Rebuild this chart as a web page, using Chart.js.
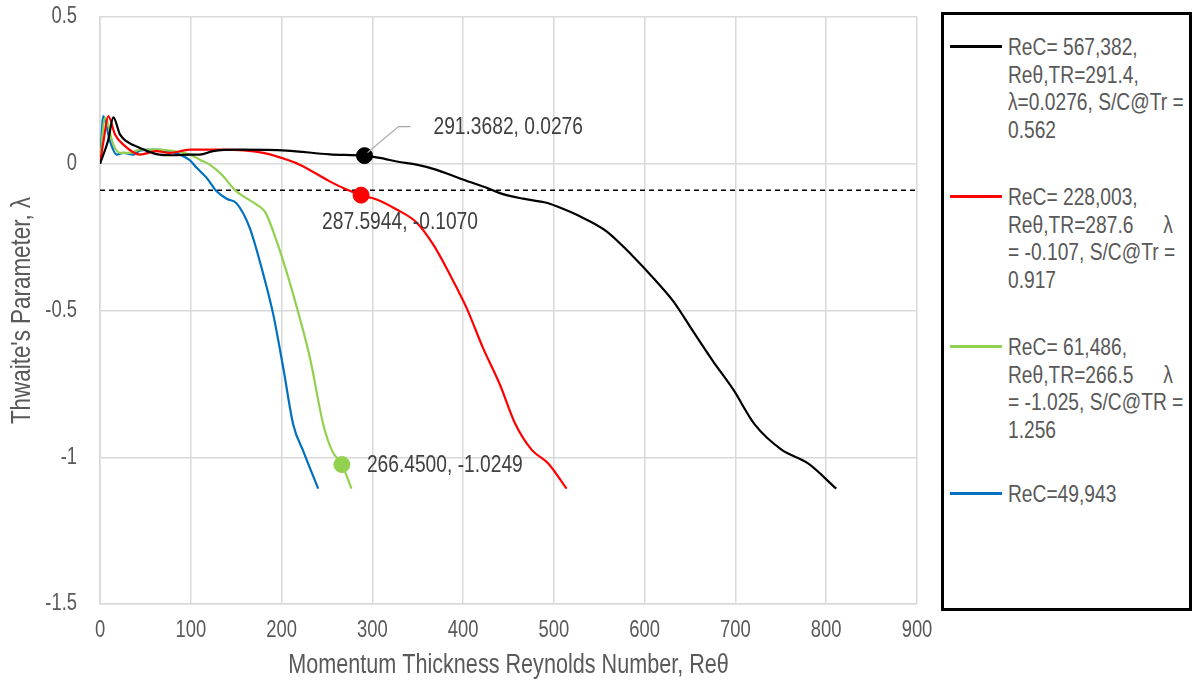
<!DOCTYPE html>
<html>
<head>
<meta charset="utf-8">
<script src="https://cdn.jsdelivr.net/npm/chart.js@4.4.0/dist/chart.umd.min.js"></script>
<style>
  body { margin: 0; background: #fff; }
  #wrap { position: relative; width: 1193px; height: 683px; }
  #legend {
    position: absolute; left: 941px; top: 12px; width: 245px; height: 593px;
    border: 3px solid #000; background: #fff;
    font-family: 'Liberation Sans', Arial, sans-serif;
    font-size: 24px; color: #595959;
  }
  .item { position: absolute; left: 0; width: 245px; line-height: 27.5px; }
  .swatch { position: absolute; left: 6px; width: 52px; height: 3px; top: 12px; }
  .txt { position: absolute; left: 64px; white-space: nowrap; transform: scaleX(0.8); transform-origin: 0 0; }
  .lam { position: absolute; left: 194px; }
</style>
</head>
<body>
<div id="wrap">
  <canvas id="thwaites"></canvas>
  <div id="legend"></div>
</div>
<script>
// series: Re_theta vs Thwaite's lambda ------------------------------------------------------

const blackX = [0, 9, 14.7, 22, 29, 44, 62, 80.6, 99, 110, 124.6, 154, 205.6, 253, 291.37, 308, 330, 348.7, 370, 396.5, 426, 440.5, 466, 492, 503, 528.6, 558, 587, 609.5, 631.4, 653.4, 675.4, 697.5, 721.4, 750.7, 780, 811]
const blackY = [0, 0.08, 0.158, 0.1, 0.077, 0.054, 0.033, 0.029, 0.031, 0.031, 0.043, 0.048, 0.045, 0.032, 0.0276, 0.02, 0.006, -0.003, -0.02, -0.05, -0.082, -0.1, -0.119, -0.133, -0.145, -0.179, -0.23, -0.315, -0.389, -0.468, -0.571, -0.673, -0.769, -0.889, -0.974, -1.021, -1.107]

const redX = [0, 4, 9.2, 16.5, 25.7, 44, 62, 77, 99, 135, 180, 200, 220, 253, 271.7, 287.59, 304.7, 326.7, 348.7, 367, 385.5, 403.8, 422, 440.5, 457, 475.4, 493.8, 514]
const redY = [0, 0.08, 0.162, 0.1, 0.065, 0.031, 0.043, 0.037, 0.048, 0.048, 0.037, 0.02, -0.003, -0.06, -0.088, -0.107, -0.122, -0.156, -0.2, -0.275, -0.378, -0.491, -0.628, -0.752, -0.883, -0.974, -1.021, -1.107]

const greenX = [0, 5.5, 14.7, 22, 33, 44, 62, 77, 99, 110, 121, 135, 148.7, 161.6, 172.5, 182, 194.6, 212.9, 231.3, 246, 256, 266.45, 277]
const greenY = [0, 0.156, 0.065, 0.037, 0.037, 0.048, 0.048, 0.045, 0.031, 0.014, -0.003, -0.04, -0.09, -0.118, -0.139, -0.165, -0.264, -0.446, -0.662, -0.889, -0.98, -1.0249, -1.107]

const blueX = [0, 3.7, 11, 18.4, 25.7, 36.7, 44, 62.4, 73.4, 88, 99, 106.5, 117.5, 128.5, 140, 150.5, 165, 180, 190.9, 201.9, 212.9, 224, 240.4]
const blueY = [0, 0.162, 0.077, 0.031, 0.037, 0.031, 0.045, 0.048, 0.043, 0.031, 0.012, -0.014, -0.048, -0.094, -0.12, -0.135, -0.219, -0.378, -0.514, -0.696, -0.889, -0.98, -1.107]

const seriesNames = [
  ['ReC= 567,382,', 'Reθ,TR=291.4,', 'λ=0.0276, S/C@Tr =', '0.562'],
  ['ReC= 228,003,', 'Reθ,TR=287.6|λ', '= -0.107, S/C@Tr =', '0.917'],
  ['ReC= 61,486,', 'Reθ,TR=266.5|λ', '= -1.025, S/C@TR =', '1.256'],
  ['ReC=49,943']
]
const seriesColors = ['#000000', '#ff0000', '#92d050', '#0070c0']

// transition points
const markerX = [291.3682, 287.5944, 266.4500]
const markerY = [0.0276, -0.1070, -1.0249]
const markerLabels = ['291.3682, 0.0276', '287.5944, -0.1070', '266.4500, -1.0249']

const separationLambda = -0.09
const xTicks = [0, 900, 100]
const yTicks = [-1.5, 0.5, 0.5]

const toPts = (xs, ys) => xs.map((x, i) => ({x: x, y: ys[i]}))
const curves = [toPts(blackX, blackY), toPts(redX, redY), toPts(greenX, greenY), toPts(blueX, blueY)]

const FONT = "'Liberation Sans', Arial, sans-serif"
Chart.defaults.font.family = FONT
Chart.defaults.color = '#595959'

// the original uses a narrow face; squeeze canvas text horizontally to get close
const SQUEEZE = 0.8
const canvas = document.getElementById('thwaites')
const c2d = canvas.getContext('2d')
const rawFill = c2d.fillText.bind(c2d)
const rawMeasure = c2d.measureText.bind(c2d)
c2d.fillText = function (text, x, y) {
  this.save()
  this.translate(x, y)
  this.scale(SQUEEZE, 1)
  rawFill(text, 0, 0)
  this.restore()
}
c2d.measureText = function (text) {
  const m = rawMeasure(text)
  return {width: m.width * SQUEEZE, actualBoundingBoxAscent: m.actualBoundingBoxAscent, actualBoundingBoxDescent: m.actualBoundingBoxDescent}
}

const datasets = []
markerX.forEach((mx, i) => {
  datasets.push({
    data: [{x: mx, y: markerY[i]}],
    showLine: false,
    pointRadius: 8,
    pointBackgroundColor: seriesColors[i],
    pointBorderColor: seriesColors[i],
    order: 0
  })
})
curves.forEach((pts, i) => {
  datasets.push({
    label: seriesNames[i][0],
    data: pts,
    borderColor: seriesColors[i],
    borderWidth: 2.2,
    pointRadius: 0,
    cubicInterpolationMode: 'monotone',
    order: 1
  })
})
datasets.push({
  data: [{x: xTicks[0], y: separationLambda}, {x: xTicks[1], y: separationLambda}],
  borderColor: '#000000',
  borderWidth: 1.5,
  borderDash: [5, 4],
  pointRadius: 0,
  order: 2
})

// labels next to the transition points
const pointLabels = {
  id: 'pointLabels',
  afterDatasetsDraw(chart) {
    const ctx = chart.ctx
    const xs = chart.scales.x, ys = chart.scales.y
    const off = [[69, -28], [-39, 27], [25, 1]]
    ctx.save()
    ctx.font = '24px ' + FONT
    ctx.fillStyle = '#404040'
    ctx.textBaseline = 'middle'
    markerX.forEach((mx, i) => {
      const px = xs.getPixelForValue(mx), py = ys.getPixelForValue(markerY[i])
      if (i === 0) {
        ctx.strokeStyle = '#a6a6a6'
        ctx.lineWidth = 1.2
        ctx.beginPath()
        ctx.moveTo(px + 3, py - 3)
        ctx.lineTo(px + 34, py - 29)
        ctx.lineTo(px + 46, py - 29)
        ctx.stroke()
      }
      ctx.fillText(markerLabels[i], px + off[i][0], py + off[i][1])
    })
    ctx.restore()
  }
}

new Chart(canvas, {
  type: 'line',
  data: {datasets: datasets},
  plugins: [pointLabels],
  options: {
    responsive: true,
    maintainAspectRatio: false,
    animation: false,
    layout: {padding: {top: 0, right: 276, left: 0, bottom: 0}},
    plugins: {
      legend: {display: false},
      tooltip: {enabled: false}
    },
    scales: {
      x: {
        type: 'linear',
        min: xTicks[0],
        max: xTicks[1],
        ticks: {stepSize: xTicks[2], padding: 13, font: {size: 23}},
        grid: {color: '#d9d9d9', lineWidth: 1.5, drawTicks: false},
        border: {color: '#d9d9d9', width: 1.5},
        title: {display: true, text: 'Momentum Thickness Reynolds Number, Reθ', font: {size: 27}, padding: {top: 0, bottom: 1}},
        afterFit(scale) { scale.height = 79 }
      },
      y: {
        min: yTicks[0],
        max: yTicks[1],
        ticks: {stepSize: yTicks[2], padding: 23, font: {size: 23}, callback: v => String(v)},
        grid: {color: '#d9d9d9', lineWidth: 1.5, drawTicks: false},
        border: {color: '#d9d9d9', width: 1.5},
        title: {display: true, text: "Thwaite's Parameter, λ", font: {size: 28}, padding: {top: 5, bottom: 0}},
        afterFit(scale) {
          scale.width = 100
          scale.paddingTop = 17
          scale.paddingBottom = 0
        }
      }
    }
  }
})

// legend box on the right
const legend = document.getElementById('legend')
const tops = [18, 168, 318, 465]
seriesNames.forEach((lines, i) => {
  const item = document.createElement('div')
  item.className = 'item'
  item.style.top = tops[i] + 'px'
  const sw = document.createElement('div')
  sw.className = 'swatch'
  sw.style.background = seriesColors[i]
  item.appendChild(sw)
  const txt = document.createElement('div')
  txt.className = 'txt'
  txt.innerHTML = lines.map(l => {
    const parts = l.split('|')
    return parts.length > 1 ? parts[0] + '<span class="lam">' + parts[1] + '</span>' : l
  }).join('<br>')
  item.appendChild(txt)
  legend.appendChild(item)
})
</script>
</body>
</html>
